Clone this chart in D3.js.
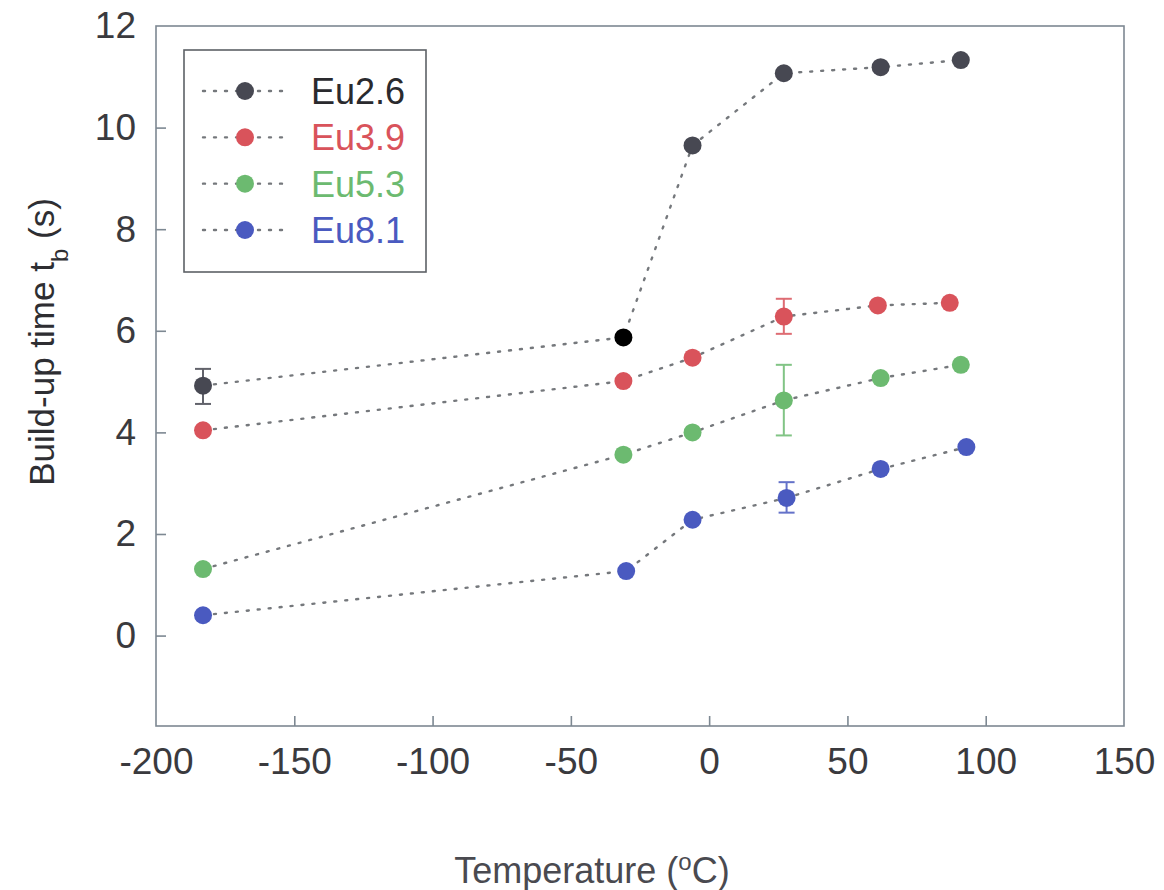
<!DOCTYPE html>
<html>
<head>
<meta charset="utf-8">
<script src="https://cdn.jsdelivr.net/npm/d3@7"></script>
<style>
  html, body { margin: 0; padding: 0; background: #fff; }
  svg { display: block; font-family: "Liberation Sans", Arial, sans-serif; }
</style>
</head>
<body>
<svg id="chart" width="1164" height="890"></svg>
<script>
// ---- data ----
const seriesNames = ["Eu2.6", "Eu3.9", "Eu5.3", "Eu8.1"];
const seriesColors = ["#474852", "#d9535b", "#6cba70", "#4a5ac0"];
const tempEu26 = [-183, -31, -6, 27, 62, 91];
const valEu26  = [4.92, 5.87, 9.65, 11.07, 11.19, 11.33];
const tempEu39 = [-183, -31, -6, 27, 61, 87];
const valEu39  = [4.04, 5.01, 5.47, 6.28, 6.50, 6.55];
const tempEu53 = [-183, -31, -6, 27, 62, 91];
const valEu53  = [1.31, 3.56, 4.00, 4.63, 5.07, 5.33];
const tempEu81 = [-183, -30, -6, 28, 62, 93];
const valEu81  = [0.40, 1.27, 2.28, 2.71, 3.28, 3.71];
// error bars: [series index, point index, low, high]
const errorBars = [
  [0, 0, 4.56, 5.25],
  [1, 3, 5.94, 6.63],
  [2, 3, 3.94, 5.33],
  [3, 3, 2.42, 3.02]
];
const xTickValues = [-200, -150, -100, -50, 0, 50, 100, 150];
const yTickValues = [0, 2, 4, 6, 8, 10, 12];
const xDomain = [-200, 150];
const yDomain = [-1.78, 12];

const seriesTemps = [tempEu26, tempEu39, tempEu53, tempEu81];
const seriesVals = [valEu26, valEu39, valEu53, valEu81];
// the -30 point of Eu2.6 is drawn black in the original
const specialPointColor = {"0-1": "#000000"};

// ---- layout ----
const svg = d3.select("#chart");
const L = 156, R = 1124, T = 26, B = 726;
const x = d3.scaleLinear().domain(xDomain).range([L, R]);
const y = d3.scaleLinear().domain(yDomain).range([B, T]);

const frameColor = "#7d8892";
const textColor = "#3a3a3e";

// frame
svg.append("rect")
  .attr("x", L).attr("y", T).attr("width", R - L).attr("height", B - T)
  .attr("fill", "none").attr("stroke", frameColor).attr("stroke-width", 1.6);

// x axis (ticks inward)
const xAxis = d3.axisBottom(x).tickValues(xTickValues).tickSizeInner(-10).tickSizeOuter(0).tickPadding(22)
  .tickFormat(d3.format("d"));
const gx = svg.append("g").attr("transform", `translate(0,${B})`).call(xAxis);
gx.select(".domain").remove();
gx.selectAll(".tick line").attr("stroke", frameColor).attr("stroke-width", 1.6)
  .filter(d => d === xDomain[0] || d === xDomain[1]).remove();
gx.selectAll(".tick text").attr("font-size", 37).attr("fill", textColor)
  .attr("font-family", "'Liberation Sans', Arial, sans-serif")
  .text(d => d < 0 ? "-" + Math.abs(d) : d);

// y axis (ticks inward)
const yAxis = d3.axisLeft(y).tickValues(yTickValues).tickSizeInner(-10).tickSizeOuter(0).tickPadding(20)
  .tickFormat(d3.format("d"));
const gy = svg.append("g").attr("transform", `translate(${L},0)`).call(yAxis);
gy.select(".domain").remove();
gy.selectAll(".tick line").attr("stroke", frameColor).attr("stroke-width", 1.6)
  .filter(d => d === yDomain[1]).remove();
gy.selectAll(".tick text").attr("font-size", 37).attr("fill", textColor)
  .attr("font-family", "'Liberation Sans', Arial, sans-serif");

// axis titles
svg.append("text")
  .attr("x", 592).attr("y", 883)
  .attr("text-anchor", "middle").attr("font-size", 36).attr("fill", "#4a4a50")
  .html('Temperature (<tspan baseline-shift="super" font-size="24">o</tspan>C)');

svg.append("text")
  .attr("transform", "translate(54,342) rotate(-90)")
  .attr("text-anchor", "middle").attr("font-size", 35).attr("fill", "#2e2e32")
  .html('Build-up time t<tspan baseline-shift="sub" font-size="24">b</tspan> (s)');

// lines
const line = d3.line().x(d => x(d[0])).y(d => y(d[1]));
seriesNames.forEach((name, i) => {
  const pts = seriesTemps[i].map((t, j) => [t, seriesVals[i][j]]);
  svg.append("path")
    .attr("d", line(pts))
    .attr("fill", "none").attr("stroke", "#75787c")
    .attr("stroke-width", 2.4).attr("stroke-dasharray", "2,9")
    .attr("stroke-linecap", "round");
});

// error bars
errorBars.forEach(([si, pi, lo, hi]) => {
  const cx = x(seriesTemps[si][pi]);
  const g = svg.append("g").attr("stroke", seriesColors[si]).attr("stroke-width", 2).attr("opacity", 0.85);
  g.append("line").attr("x1", cx).attr("x2", cx).attr("y1", y(lo)).attr("y2", y(hi));
  g.append("line").attr("x1", cx - 8).attr("x2", cx + 8).attr("y1", y(lo)).attr("y2", y(lo));
  g.append("line").attr("x1", cx - 8).attr("x2", cx + 8).attr("y1", y(hi)).attr("y2", y(hi));
});

// points
seriesNames.forEach((name, i) => {
  svg.append("g").selectAll("circle")
    .data(seriesTemps[i].map((t, j) => ({t, v: seriesVals[i][j], j})))
    .join("circle")
    .attr("cx", d => x(d.t)).attr("cy", d => y(d.v)).attr("r", 9)
    .attr("fill", d => specialPointColor[`${i}-${d.j}`] || seriesColors[i]);
});

// legend
const legend = svg.append("g");
legend.append("rect")
  .attr("x", 184).attr("y", 50).attr("width", 242).attr("height", 222)
  .attr("fill", "#fff").attr("stroke", "#5d6166").attr("stroke-width", 1.6);
const legendY = d3.scalePoint().domain(seriesNames).range([91, 230]);
seriesNames.forEach((name, i) => {
  const ly = legendY(name);
  legend.append("line").attr("x1", 203).attr("x2", 285).attr("y1", ly).attr("y2", ly)
    .attr("stroke", "#75787c").attr("stroke-width", 2.4).attr("stroke-dasharray", "2,9")
    .attr("stroke-linecap", "round");
  legend.append("circle").attr("cx", 245).attr("cy", ly).attr("r", 9).attr("fill", seriesColors[i]);
  legend.append("text").attr("x", 311).attr("y", ly).attr("dy", "0.36em")
    .attr("font-size", 36).attr("fill", i === 0 ? "#2a2a2e" : seriesColors[i]).text(name);
});
</script>
</body>
</html>
